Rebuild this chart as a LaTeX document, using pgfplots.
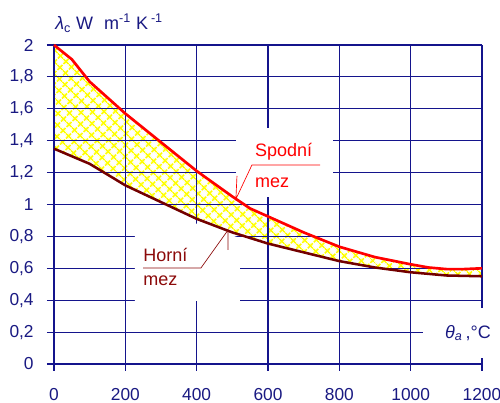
\documentclass[border=0pt]{standalone}
\usepackage{fontspec}
\setmainfont{Liberation Sans}
\usepackage{pgfplots}
\pgfplotsset{compat=1.18}
\usetikzlibrary{patterns.meta}
\definecolor{gridnavy}{RGB}{20,20,140}
\definecolor{txtnavy}{RGB}{25,25,130}
\definecolor{lowbrown}{RGB}{115,0,0}
\definecolor{hornired}{RGB}{140,10,10}

\begin{document}
\begin{tikzpicture}
\begin{axis}[
    set layers,
    scale only axis,
    width=321pt, height=239.25pt,
    xmin=0, xmax=1200, ymin=0, ymax=2,
    xtick={0,200,...,1200},
    ytick={0,0.2,...,2},
    axis lines=left,
    axis line style={-, gridnavy, line width=0.8pt},
    grid=major,
    major grid style={gridnavy, line width=0.8pt},
    tick style={gridnavy, line width=0.8pt},
    tick align=outside,
    major tick length=5.25pt,
    clip=false,
    /pgf/number format/.cd, use comma, 1000 sep={}, assume math mode=true,
    /pgfplots/.cd,
    ticklabel style={font=\fontsize{13}{14}\selectfont, text=txtnavy},
    xticklabel style={yshift=-9.5pt},
    yticklabel style={xshift=-6.5pt},
]
% band between the two limits, under the grid: upper limit forward, lower limit back
\addplot[on layer=axis background, draw=yellow, line width=1pt,
  pattern={Hatch[angle=45,distance=6.4pt,line width=1.5pt]}, pattern color=yellow] coordinates {
(0,2.0) (50,1.91) (100,1.77) (200,1.57) (300,1.39) (400,1.21) (500,1.05)
(550,0.975) (600,0.925) (700,0.825) (800,0.735) (900,0.67) (1000,0.625)
(1050,0.605) (1100,0.595) (1150,0.595) (1200,0.60)
(1200,0.55) (1100,0.555) (1000,0.575) (900,0.605) (800,0.645) (700,0.70)
(600,0.755) (500,0.825) (400,0.91) (300,1.015) (200,1.12) (100,1.255) (0,1.35)} -- cycle;

% white boxes behind the labels
\addplot[draw=none, fill=white] coordinates {(510,1.48) (782,1.48) (782,1.047) (510,1.047)} -- cycle;
\addplot[draw=none, fill=white] coordinates {(227,0.88) (400,0.88) (521,0.79) (521,0.395) (227,0.395)} -- cycle;
\addplot[draw=none, fill=white] coordinates {(1035,0.35) (1250,0.35) (1250,0.038) (1035,0.038)} -- cycle;

\addplot[red, line width=2pt] coordinates {
(0,2.0) (50,1.91) (100,1.77) (200,1.57) (300,1.39) (400,1.21) (500,1.05)
(550,0.975) (600,0.925) (700,0.825) (800,0.735) (900,0.67) (1000,0.625)
(1050,0.605) (1100,0.595) (1150,0.595) (1200,0.60)};
\addplot[lowbrown, line width=1.9pt] coordinates {
(0,1.35) (100,1.255) (200,1.12) (300,1.015) (400,0.91) (500,0.825)
(600,0.755) (700,0.70) (800,0.645) (900,0.605) (1000,0.575) (1100,0.555)
(1200,0.55)};

% labels
\node[anchor=west, red, inner sep=0, font=\fontsize{13.5}{15}\selectfont] at (axis cs:563,1.33) {Spodní};
\node[anchor=west, red, inner sep=0, font=\fontsize{13.5}{15}\selectfont] at (axis cs:563,1.135) {mez};
\draw[red, line width=0.5pt] (axis cs:746,1.248) -- (axis cs:555,1.248) -- (axis cs:510,1.034) -- (axis cs:513,1.179);

\node[anchor=west, hornired, inner sep=0, font=\fontsize{13.5}{15}\selectfont] at (axis cs:250,0.683) {Horní};
\node[anchor=west, hornired, inner sep=0, font=\fontsize{13.5}{15}\selectfont] at (axis cs:250,0.52) {mez};
\draw[hornired, line width=0.5pt] (axis cs:250,0.602) -- (axis cs:412,0.602) -- (axis cs:488,0.84) -- (axis cs:488,0.715);

\node[anchor=west, txtnavy, inner sep=0, font=\fontsize{13.5}{15}\selectfont] at (axis cs:1096,0.194) {\textit{θ}\textsubscript{\textit{a}}\,,°C};
\node[anchor=west, txtnavy, inner sep=0, font=\fontsize{13.5}{15}\selectfont] at (axis cs:3,2.138) {\textit{λ}\textsubscript{c} W\,\, m\textsuperscript{-1} K\,\textsuperscript{-1}};
\end{axis}
\pgfresetboundingbox
\path[use as bounding box] (-40.5pt,-29.25pt) rectangle (334.5pt,273pt);
\end{tikzpicture}
\end{document}
